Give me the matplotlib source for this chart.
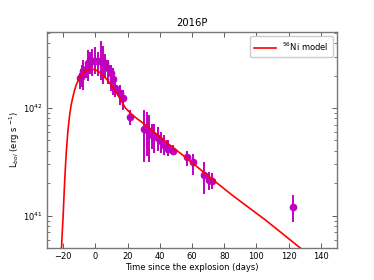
import matplotlib
matplotlib.use("Agg")
import matplotlib.pyplot as plt
import numpy as np

# Observed bolometric light curve (time in days, L in 1e42 erg/s, log-space errors)
t_obs = [-9.7, -8.9, -8.0, -7.4, -6.0, -4.3, -3.3, -1.9, -0.2, 1.8, 3.5, 5.0,
         5.9, 7.6, 9.6, 11.1, 12.1, 15.2, 16.9, 21.4,
         30.4, 31.9, 33.5, 35.2, 36.6, 38.6, 40.7, 42.8, 44.2, 45.4, 47.9,
         57.2, 60.7, 67.5, 70.6, 72.6, 123.0]
logL_obs = [42.28, 42.29, 42.31, 42.34, 42.36, 42.42, 42.45, 42.44, 42.44, 42.44, 42.44, 42.43,
            42.42, 42.37, 42.33, 42.27, 42.19, 42.14, 42.09, 41.92,
            41.81, 41.80, 41.78, 41.75, 41.74, 41.72, 41.69, 41.66, 41.64, 41.62, 41.60,
            41.545, 41.50, 41.38, 41.33, 41.325, 41.08]
logL_hi = [42.33, 42.36, 42.40, 42.45, 42.41, 42.54, 42.52, 42.55, 42.57, 42.52, 42.62, 42.58,
           42.50, 42.45, 42.40, 42.37, 42.26, 42.21, 42.17, 41.98,
           41.98, 41.96, 41.94, 41.85, 41.85, 41.82, 41.78, 41.75, 41.70, 41.70, 41.66,
           41.60, 41.57, 41.50, 41.41, 41.40, 41.19]
logL_lo = [42.18, 42.25, 42.20, 42.17, 42.28, 42.25, 42.32, 42.30, 42.32, 42.30, 42.26, 42.22,
           42.28, 42.22, 42.16, 42.12, 42.10, 42.03, 41.98, 41.84,
           41.50, 41.55, 41.50, 41.62, 41.58, 41.60, 41.58, 41.56, 41.58, 41.55, 41.56,
           41.46, 41.38, 41.20, 41.24, 41.25, 40.94]

# 56Ni model curve (time in days, log L)
t_mod = [-21.5, -21.0, -20.5, -20.0, -19.5, -19.0, -18.5, -18.0, -17.0, -16.0, -15.0, -14.0,
         -13.0, -12.0, -11.0, -10.0, -8.0, -6.0, -4.0, -2.0, 0.0, 2.0, 4.0, 6.0, 8.0, 10.0,
         12.0, 14.0, 16.0, 18.7, 22.0, 26.0, 31.5, 41.7, 56.2, 70.0, 85.0, 105.6, 127.2, 135.0]
logL_mod = [40.55, 40.70, 40.86, 40.99, 41.17, 41.33, 41.47, 41.60, 41.79, 41.93, 42.03, 42.10,
            42.16, 42.21, 42.245, 42.275, 42.32, 42.345, 42.36, 42.36, 42.355, 42.34, 42.315, 42.285,
            42.25, 42.21, 42.17, 42.12, 42.07, 42.00, 41.95, 41.90, 41.84, 41.71, 41.54, 41.37,
            41.19, 40.96, 40.70, 40.61]

L_obs = 10 ** np.array(logL_obs)
yerr = [L_obs - 10 ** np.array(logL_lo), 10 ** np.array(logL_hi) - L_obs]
L_mod = 10 ** np.array(logL_mod)

plt.rcParams['font.family'] = ['DejaVu Sans']
fig = plt.figure(figsize=(3.74, 2.8), dpi=100)
ax = fig.add_axes([0.1257, 0.114, 0.7753, 0.772])

ax.plot(t_mod, L_mod, color='red', lw=1.2, label=r'$^{56}$Ni model', zorder=3)
ax.errorbar(t_obs, L_obs, yerr=yerr, fmt='o', color='m', ms=4.5, elinewidth=1.4,
            capsize=0, zorder=2)

ax.set_yscale('log')
ax.set_xlim(-30, 150)
ax.set_ylim(5.0e40, 5.1e42)
ax.set_xticks([-20, 0, 20, 40, 60, 80, 100, 120, 140])
ax.tick_params(which='both', direction='in', top=True, right=True, labelsize=6,
               color='#444444', pad=3)
ax.tick_params(which='major', length=3.5, width=0.6)
ax.tick_params(which='minor', length=2, width=0.5)
for s in ax.spines.values():
    s.set_color('#777777')
    s.set_linewidth(1.0)

ax.set_title('2016P', fontsize=7.2, pad=4)
ax.set_xlabel('Time since the explosion (days)', fontsize=6, labelpad=1.5)
ax.set_ylabel(r'L$_{bol}$ (erg s $^{-1}$)', fontsize=6, labelpad=1)
ax.legend(loc='upper right', fontsize=6, handlelength=2.6, borderpad=0.5,
          framealpha=1, edgecolor='#cccccc')

fig.savefig('out.png', dpi=100)
